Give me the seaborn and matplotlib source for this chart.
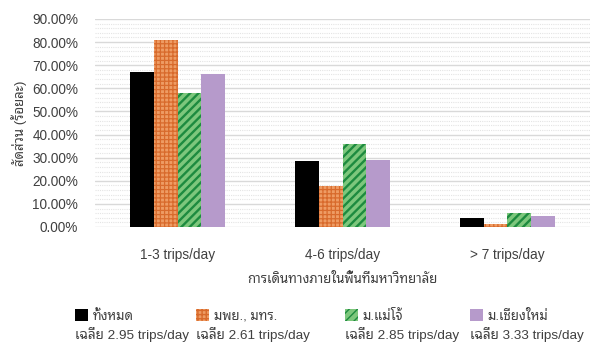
import matplotlib
matplotlib.use("Agg")
import matplotlib.pyplot as plt
from matplotlib import font_manager
from matplotlib.ft2font import FT2Font
from matplotlib.ticker import MultipleLocator, PercentFormatter
from matplotlib.patches import Patch
import seaborn as sns
import pandas as pd

# Trip-frequency categories and share of respondents per group (percent)
categories = ["1-3 trips/day", "4-6 trips/day", "> 7 trips/day"]
groups = ["ทั้งหมด", "มพย., มทร.", "ม.แม่โจ้", "ม.เชียงใหม่"]
averages = ["เฉลี่ย 2.95 trips/day", "เฉลี่ย 2.61 trips/day",
            "เฉลี่ย 2.85 trips/day", "เฉลี่ย 3.33 trips/day"]
share_all = [66.9, 28.7, 4.0]
share_mpy_mtr = [80.9, 17.7, 1.3]
share_maejo = [57.8, 35.8, 5.9]
share_cmu = [66.1, 29.0, 4.8]


def thai_font():
    preferred = ["Noto Sans Thai Looped", "Noto Sans Thai", "Noto Serif Thai",
                 "Loma", "Garuda", "Norasi", "Umpush", "Waree", "Kinnari",
                 "Tlwg Typo"]
    found = {}
    for f in font_manager.fontManager.ttflist:
        try:
            if 0x0E01 in FT2Font(f.fname).get_charmap():
                found.setdefault(f.name, f.fname)
        except Exception:
            pass
    for name in preferred:
        if name in found:
            return name
    return next(iter(found), None)


sns.set_theme(style="white")
th = thai_font()
plt.rcParams["font.family"] = ["Liberation Sans"] + ([th] if th else []) + ["DejaVu Sans"]

df = pd.DataFrame({
    "category": categories * 4,
    "group": [g for g in groups for _ in categories],
    "share": share_all + share_mpy_mtr + share_maejo + share_cmu,
})

colors = ["#000000", "#EE9C64", "#7DC77C", "#B69ACB"]
hatches = [None, "++++", "////", None]
hatch_edges = ["#000000", "#D86A2C", "#1D8B3F", "#B69ACB"]
hatch_widths = [1.0, 0.9, 1.7, 1.0]
text_color = "#404040"

fig = plt.figure(figsize=(5.92, 3.43), dpi=100)
ax = fig.add_axes([95 / 592, 1 - 227 / 343, 495 / 592, 208 / 343])

sns.barplot(data=df, x="category", y="share", hue="group", hue_order=groups,
            order=categories, palette=colors, width=0.58, gap=0,
            saturation=1, ax=ax, legend=False)


def style_patch(p, hatch, edge, hw):
    p.set_linewidth(0)
    if hatch:
        p.set_hatch(hatch)
        p.set_edgecolor(edge)
        if hasattr(p, "set_hatch_linewidth"):
            p.set_hatch_linewidth(hw)


for container, hatch, edge, hw in zip(ax.containers, hatches, hatch_edges, hatch_widths):
    for bar in container:
        style_patch(bar, hatch, edge, hw)

ax.set_ylim(0, 90)
ax.yaxis.set_major_locator(MultipleLocator(10))
ax.yaxis.set_minor_locator(MultipleLocator(2))
ax.yaxis.set_major_formatter(PercentFormatter(decimals=2))
ax.grid(axis="y", which="major", color="#D9D9D9", linewidth=1.0)
ax.grid(axis="y", which="minor", color="#E4E4E4", linewidth=0.8, linestyle=(0, (1, 1)))
ax.set_axisbelow(True)
for s in ax.spines.values():
    s.set_visible(False)
ax.tick_params(axis="y", which="both", length=0, pad=12, labelsize=9.8, labelcolor=text_color)
ax.tick_params(axis="x", length=0, pad=15, labelsize=9.8, labelcolor=text_color)

ax.set_xlabel("การเดินทางภายในพื้นที่มหาวิทยาลัย", fontsize=9.5, color=text_color, labelpad=8)
ax.set_ylabel("สัดส่วน (ร้อยละ)", fontsize=9.5, color=text_color, labelpad=4)

# One legend entry per group, each with its average written underneath
entry_x = [75, 196, 345, 470]
for i, (x, g, avg) in enumerate(zip(entry_x, groups, averages)):
    handle = Patch(facecolor=colors[i])
    style_patch(handle, hatches[i], hatch_edges[i], hatch_widths[i])
    fig.legend([handle], [g], loc="center left",
               bbox_to_anchor=(x / 592, 1 - 316 / 343), frameon=False,
               fontsize=9.5, handlelength=0.95, handleheight=0.95,
               handletextpad=0.4, borderaxespad=0, borderpad=0,
               labelcolor=text_color)
    fig.text(x / 592, 1 - 334 / 343, avg, fontsize=9.7, color=text_color,
             ha="left", va="center")

fig.savefig("out.png", dpi=100, facecolor="white")
